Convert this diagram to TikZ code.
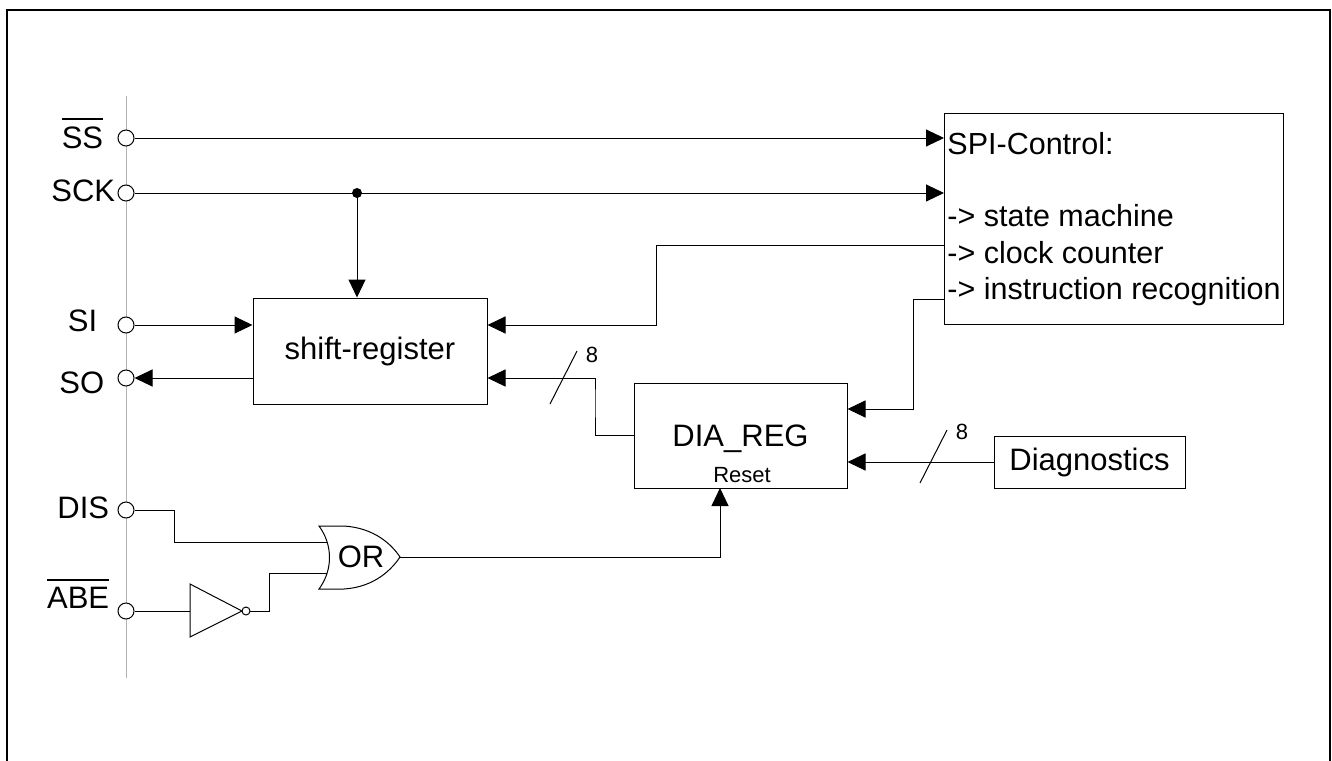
\documentclass[tikz,border=0pt]{standalone}
\usepackage{fontspec}
\setmainfont{Liberation Sans}
\usetikzlibrary{arrows.meta}
\newcommand\barname[1]{\vbox{\hrule height 2pt\kern 6pt\hbox{#1}}}

\begin{document}
\begin{tikzpicture}[>={Triangle[length=18pt,width=17pt]},x=1pt,y=-1pt,
              line width=1pt,
              every node/.style={font=\fontsize{31}{37}\selectfont},
              block/.style={draw,rectangle,inner sep=0pt},
              pin node/.style={circle,draw,fill=white,minimum size=16pt,inner sep=0pt},
              small text/.style={font=\fontsize{22}{26}\selectfont}]

            \useasboundingbox (0,0) rectangle (1332,760);
            \draw[line width=2pt] (7,770) -- (7,10) -- (1330,10) -- (1330,770);

            % pin bus
            \draw[gray!60] (126,96) -- (126,678);

            \node[pin node] (pSS) at (126,138) {};
            \node[pin node] (pSCK) at (126,193) {};
            \node[pin node] (pSI) at (126,325) {};
            \node[pin node] (pSO) at (126,378) {};
            \node[pin node] (pDIS) at (126,510) {};
            \node[pin node] (pABE) at (126,611) {};

            \node[anchor=base east] (lSS) at (107,148) {\barname{SS}};
            \node[anchor=base east] (lSCK) at (119,201) {SCK};
            \node[anchor=base east] (lSI) at (101,331) {SI};
            \node[anchor=base east] (lSO) at (108,393) {SO};
            \node[anchor=base east] (lDIS) at (113,518) {DIS};
            \node[anchor=base east] (lABE) at (113,608) {\barname{ABE}};

            % blocks
            \node[block,minimum width=234pt,minimum height=106pt] (shift) at (370,351) {shift-register};
            \node[block,minimum width=213pt,minimum height=105pt,text depth=0pt] (dia) at (740.5,435.5) {DIA\_REG};
            \node[small text,anchor=base] (rst) at (742,482) {Reset};
            \node[block,minimum width=191pt,minimum height=52pt] (diag) at (1089.5,462) {Diagnostics};
            \node[block,anchor=north west,minimum width=339pt,minimum height=211pt,
                  inner xsep=1pt,align=left,font=\fontsize{30.5}{36.5}\selectfont] (spi) at (944,113)
                  {SPI-Control:\\[36pt]-> state machine\\-> clock counter\\-> instruction recognition};

            \coordinate (spiClk) at (944,245);
            \coordinate (spiIns) at (944,299);
            \coordinate (jSCK) at (357,193);
            \coordinate (diaRst) at (720,488);

            % gates
            \draw (190,584) -- (242,611) -- (190,637) -- cycle;
            \draw (246,611) circle (4);
            \coordinate (invIn) at (190,611);
            \coordinate (invOut) at (250,611);

            \draw (319,526) -- (344,526) .. controls (375,528) and (392,545) .. (400,557)
                  .. controls (392,569) and (375,587) .. (344,589) -- (319,589)
                  .. controls (333,570) and (333,545) .. (319,526) -- cycle;
            \node (orTxt) at (361,557) {OR};
            \coordinate (orIn1) at (327,542);
            \coordinate (orIn2) at (327,573);
            \coordinate (orOut) at (400,557);

            % connections
            \draw[->] (pSS.east) -- (spi.west |- pSS);
            \draw[->] (pSCK.east) -- (spi.west |- pSCK);
            \fill (jSCK) circle (5);
            \draw[->] (jSCK) -- (jSCK |- shift.north);
            \draw[->] (pSI.east) -- (shift.west |- pSI);
            \draw[->] (shift.west |- pSO) -- (pSO.east);
            \draw[->] (spiClk) -- (656,245) -- (656,325) -- (shift.east |- pSI);
            \draw[->] (dia.west) -| (595,400) |- (shift.east |- pSO);
            \draw[->] (spiIns) -- (913,299) -- (913,409) -- (dia.east |- 0,409);
            \draw[->] (diag.west) -- (dia.east |- diag.west);
            \draw[->] (orOut) -| (diaRst);

            \draw (pDIS.east) -| (174,542) -- (orIn1);
            \draw (pABE.east) -- (invIn);
            \draw (invOut) -- (269,611) |- (orIn2);

            % bus widths
            \draw (550,404) -- (577,351);
            \node[small text] (w1) at (592,355) {8};
            \draw (920,483) -- (947,430);
            \node[small text] (w2) at (962,432) {8};

          \end{tikzpicture}
\end{document}
